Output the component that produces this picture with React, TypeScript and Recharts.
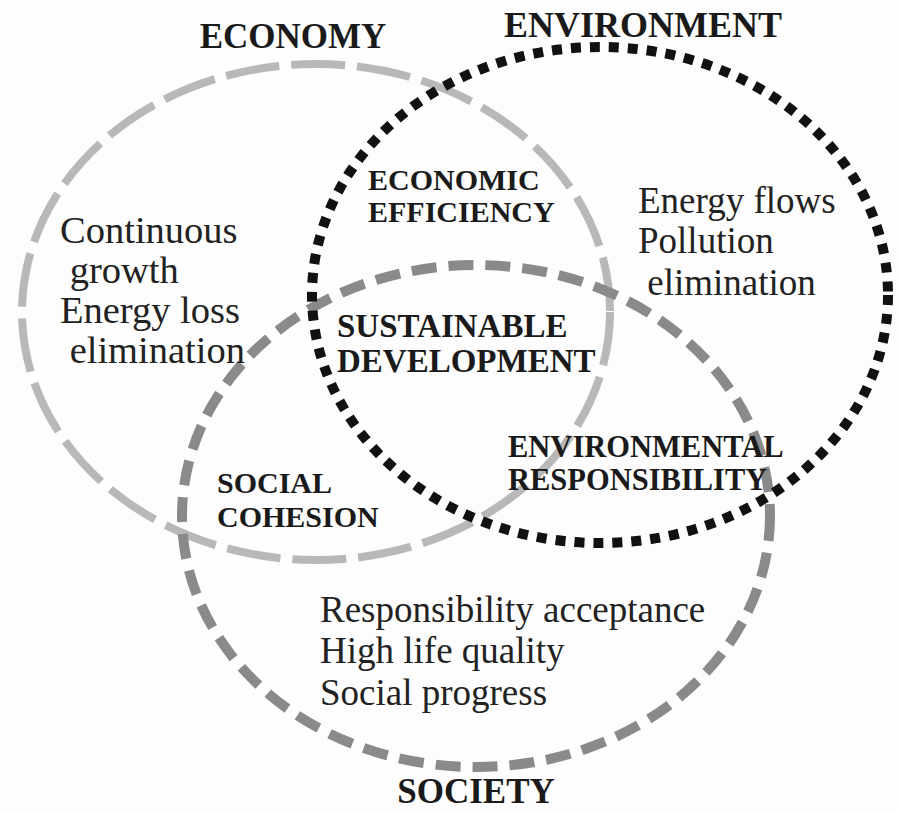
import React from "react";
import { ScatterChart, Scatter, XAxis, YAxis } from "recharts";

const WIDTH = 899;
const HEIGHT = 813;
const X_DOMAIN: [number, number] = [0, 899];
const Y_DOMAIN: [number, number] = [0, 813];

// the three sets (centre and radii in chart units), drawn in this order
const setNames = ["Economy", "Society", "Environment"];
const setCx = [316, 476, 600];
const setCy = [312, 516, 295];
const setRx = [294, 294, 288];
const setRy = [248, 251, 248];

// set titles
const titleText = ["ECONOMY", "ENVIRONMENT", "SOCIETY"];
const titleX = [293, 643, 476];
const titleY = [48, 37, 803];

// overlap labels (bold), one entry per line
const overlapText = [
  "ECONOMIC", "EFFICIENCY",
  "SUSTAINABLE", "DEVELOPMENT",
  "SOCIAL", "COHESION",
  "ENVIRONMENTAL", "RESPONSIBILITY",
];
const overlapX = [368, 368, 337, 337, 217, 217, 508, 508];
const overlapY = [190, 222, 337, 372, 493, 527, 457, 490];
const overlapGroup = ["eco", "eco", "sus", "sus", "soc", "soc", "env", "env"];

// descriptions inside each set
const descText = [
  "Continuous", "\u00a0growth", "Energy loss", "\u00a0elimination",
  "Energy flows", "Pollution", "\u00a0elimination",
  "Responsibility acceptance", "High life quality", "Social progress",
];
const descX = [60, 60, 60, 60, 638, 638, 638, 320, 320, 320];
const descY = [243, 283, 323, 363, 213, 253, 295, 622, 663, 705];
const descGroup = ["eco", "eco", "eco", "eco", "env", "env", "env", "soc", "soc", "soc"];

const SERIF = "'Liberation Serif', 'Times New Roman', serif";

const SET_STYLE: Record<string, { stroke: string; width: number; dash: string }> = {
  Economy: { stroke: "#b8b8b8", width: 8, dash: "54 12" },
  Society: { stroke: "#8a8a8a", width: 10, dash: "25 12" },
  Environment: { stroke: "#111111", width: 10, dash: "10 9" },
};

const TITLE_SIZE: Record<string, number> = { ECONOMY: 35, ENVIRONMENT: 36, SOCIETY: 35 };
const OVERLAP_SIZE: Record<string, number> = { eco: 30, sus: 33, soc: 30, env: 30.5 };
const DESC_SIZE: Record<string, number> = { eco: 38.5, env: 37, soc: 37 };

const pxPerX = WIDTH / (X_DOMAIN[1] - X_DOMAIN[0]);
const pxPerY = HEIGHT / (Y_DOMAIN[1] - Y_DOMAIN[0]);

const setData = setNames.map((name, i) => ({ name, x: setCx[i], y: setCy[i], rx: setRx[i], ry: setRy[i] }));
const titleData = titleText.map((text, i) => ({ text, x: titleX[i], y: titleY[i] }));
const overlapData = overlapText.map((text, i) => ({ text, x: overlapX[i], y: overlapY[i], group: overlapGroup[i] }));
const descData = descText.map((text, i) => ({ text, x: descX[i], y: descY[i], group: descGroup[i] }));

const EllipseShape = (props: any) => {
  const { cx, cy, payload } = props;
  const s = SET_STYLE[payload.name];
  return (
    <ellipse
      cx={cx}
      cy={cy}
      rx={payload.rx * pxPerX}
      ry={payload.ry * pxPerY}
      fill="none"
      stroke={s.stroke}
      strokeWidth={s.width}
      strokeDasharray={s.dash}
    />
  );
};

const TitleShape = (props: any) => (
  <text x={props.cx} y={props.cy} textAnchor="middle" style={{ fontFamily: SERIF }} fontWeight={700} fontSize={TITLE_SIZE[props.payload.text]} fill="#1a1a1a">
    {props.payload.text}
  </text>
);

const OverlapShape = (props: any) => (
  <text x={props.cx} y={props.cy} style={{ fontFamily: SERIF }} fontWeight={700} fontSize={OVERLAP_SIZE[props.payload.group]} fill="#1a1a1a">
    {props.payload.text}
  </text>
);

const DescShape = (props: any) => (
  <text x={props.cx} y={props.cy} style={{ fontFamily: SERIF }} fontSize={DESC_SIZE[props.payload.group]} fill="#222222">
    {props.payload.text}
  </text>
);

export default function App() {
  return (
    <div style={{ position: "absolute", left: 0, top: 0, width: WIDTH, height: HEIGHT, background: "#fdfdfd" }}>
      <ScatterChart width={WIDTH} height={HEIGHT} margin={{ top: 0, right: 0, bottom: 0, left: 0 }}>
        <XAxis type="number" dataKey="x" domain={X_DOMAIN} hide />
        <YAxis type="number" dataKey="y" domain={Y_DOMAIN} reversed hide />
        {setData.map((d) => (
          <Scatter key={d.name} data={[d]} shape={EllipseShape} isAnimationActive={false} />
        ))}
        <Scatter data={titleData} shape={TitleShape} isAnimationActive={false} />
        <Scatter data={overlapData} shape={OverlapShape} isAnimationActive={false} />
        <Scatter data={descData} shape={DescShape} isAnimationActive={false} />
      </ScatterChart>
    </div>
  );
}
